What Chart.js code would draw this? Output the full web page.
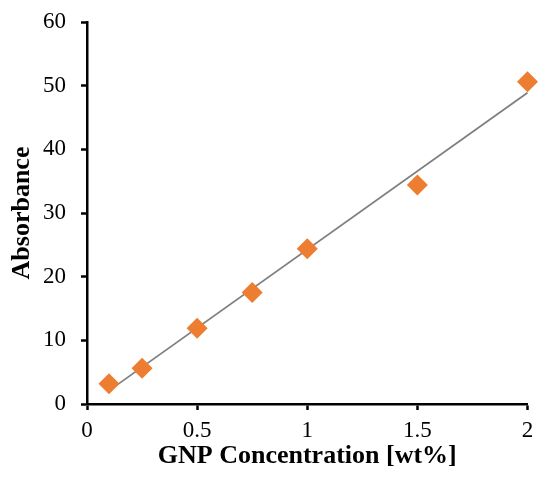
<!DOCTYPE html>
<html>
<head>
<meta charset="utf-8">
<script src="https://cdn.jsdelivr.net/npm/chart.js@4"></script>
<style>
	html, body { margin: 0; padding: 0; background: #fff; }
	#wrap { width: 538px; height: 477px; }
</style>
</head>
<body>
<div id="wrap"><canvas id="chart" width="538" height="477"></canvas></div>
<script>
// Measured points (GNP wt% vs absorbance)
const concentration = [0.1, 0.25, 0.5, 0.75, 1, 1.5, 2];
const absorbance = [3.2, 5.6, 11.9, 17.5, 24.4, 34.4, 50.6];

// Linear trend line, end points
const trendX = [0.1, 2];
const trendY = [2.1, 48.9];

const xTicks = [0, 0.5, 1, 1.5, 2];

const serif = "'Liberation Serif', 'Times New Roman', serif";

// keep label overflow from pushing the plot area around
function noOverflow(axis) {
	axis.paddingTop = 0;
	axis.paddingBottom = 0;
	axis.paddingLeft = 0;
	axis.paddingRight = 0;
}

const ctx = document.getElementById('chart').getContext('2d');
new Chart(ctx, {
	type: 'scatter',
	data: {
		datasets: [
			{
				type: 'line',
				data: trendX.map((x, i) => ({ x: x, y: trendY[i] })),
				borderColor: '#7f7f7f',
				borderWidth: 1.8,
				pointRadius: 0,
				fill: false,
				order: 2
			},
			{
				data: concentration.map((x, i) => ({ x: x, y: absorbance[i] })),
				backgroundColor: '#ed7d31',
				borderColor: '#ed7d31',
				borderWidth: 0,
				pointStyle: 'rectRot',
				pointRadius: 10.5,
				order: 1
			}
		]
	},
	options: {
		responsive: false,
		animation: false,
		clip: false,
		layout: { padding: { top: 22, right: 8, left: 0, bottom: 0 } },
		plugins: {
			legend: { display: false },
			tooltip: { enabled: false }
		},
		scales: {
			x: {
				type: 'linear',
				min: 0,
				max: 2,
				afterBuildTicks: (axis) => { axis.ticks = xTicks.map(v => ({ value: v })); },
				afterFit: (axis) => { axis.height = 73; noOverflow(axis); },
				grid: {
					display: true,
					drawOnChartArea: false,
					drawTicks: true,
					tickLength: 6,
					tickWidth: 2.5,
					color: '#000'
				},
				border: { color: '#000', width: 2.5 },
				ticks: {
					color: '#000',
					font: { family: serif, size: 23 },
					padding: 7,
					maxRotation: 0,
					callback: (v) => String(v)
				},
				title: {
					display: true,
					text: 'GNP Concentration [wt%]',
					color: '#000',
					font: { family: serif, size: 26, weight: 'bold' },
					padding: { top: 0, bottom: 5 }
				}
			},
			y: {
				min: 0,
				max: 60,
				afterFit: (axis) => { axis.width = 87; noOverflow(axis); },
				grid: {
					display: true,
					drawOnChartArea: false,
					drawTicks: true,
					tickLength: 6,
					tickWidth: 2.5,
					color: '#000'
				},
				border: { color: '#000', width: 2.5 },
				ticks: {
					stepSize: 10,
					color: '#000',
					font: { family: serif, size: 23 },
					padding: 15
				},
				title: {
					display: true,
					text: 'Absorbance',
					color: '#000',
					font: { family: serif, size: 26, weight: 'bold' },
					padding: { top: 7, bottom: 0 }
				}
			}
		}
	}
});
</script>
</body>
</html>
